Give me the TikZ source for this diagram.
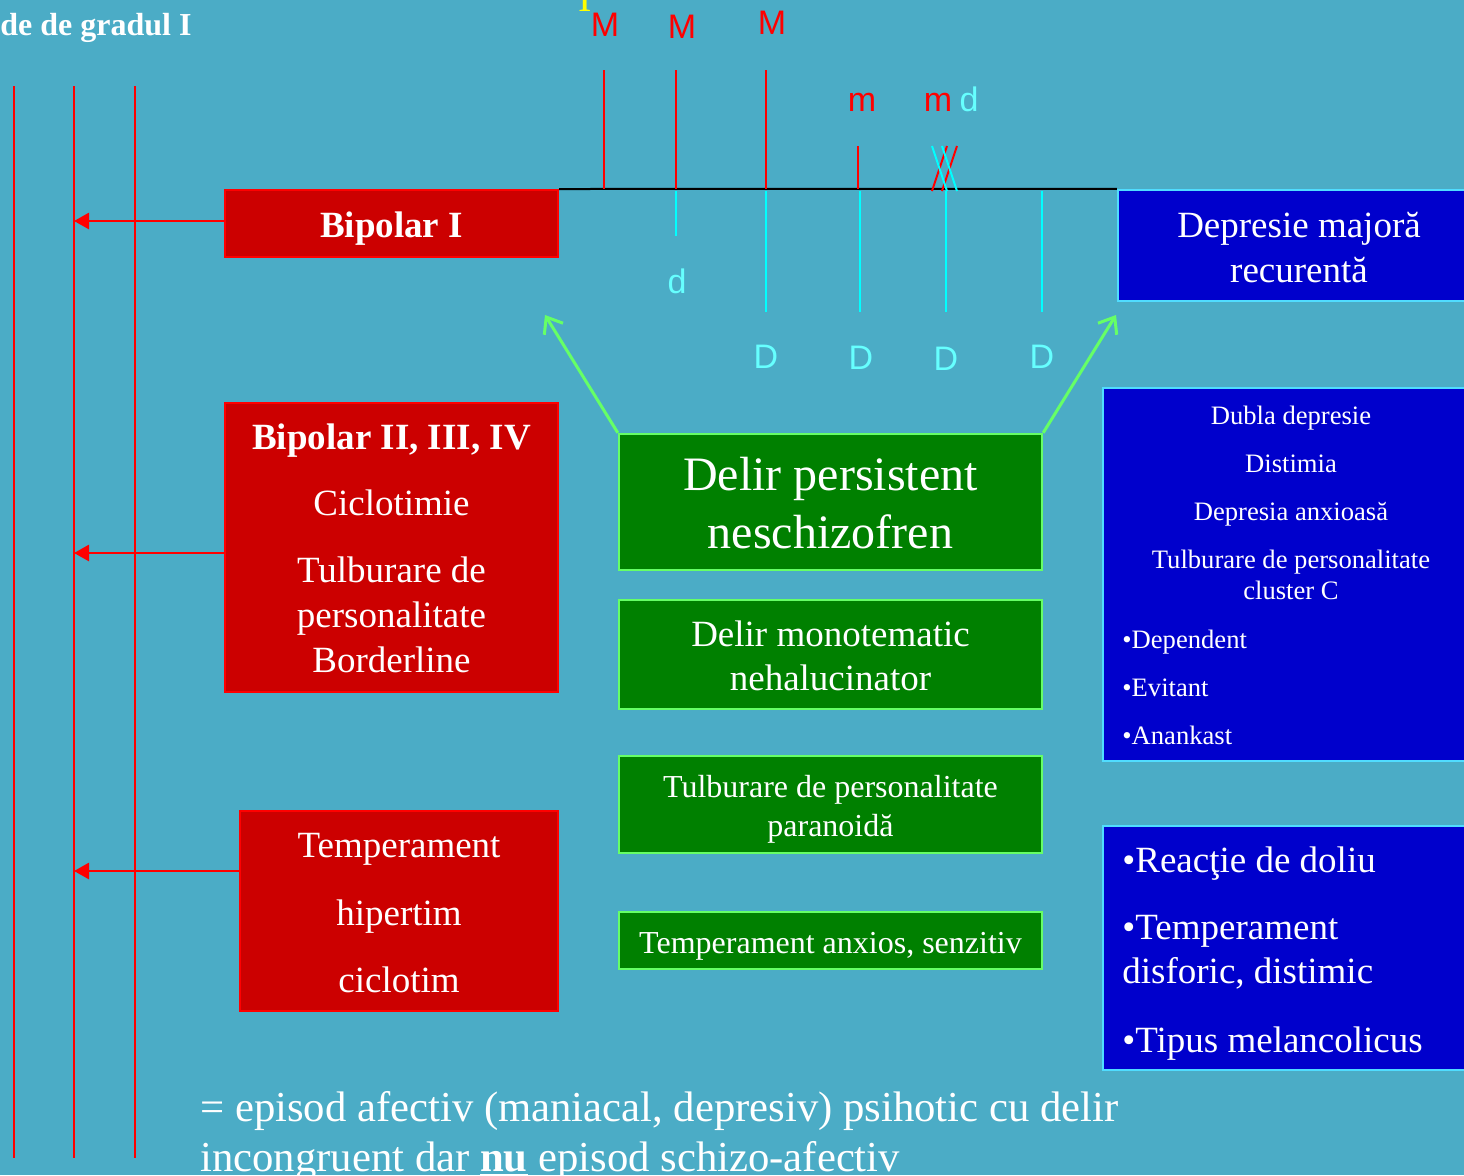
\documentclass[tikz,border=0pt]{standalone}
\usepackage{fontspec}
\setmainfont{Liberation Serif}
\newfontfamily\arialf{Liberation Sans}
\usetikzlibrary{fit,arrows.meta}
\definecolor{bg}{RGB}{75,172,198}
\definecolor{fillred}{RGB}{204,0,0}
\definecolor{edgered}{RGB}{255,0,0}
\definecolor{fillgreen}{RGB}{0,128,0}
\definecolor{edgegreen}{RGB}{102,255,102}
\definecolor{fillblue}{RGB}{0,0,204}
\definecolor{edgeblue}{RGB}{80,220,255}
\definecolor{lcyan}{RGB}{0,255,255}
\definecolor{tcyan}{RGB}{102,255,255}
\definecolor{yel}{RGB}{255,255,0}
\newcommand{\myfs}[2]{\fontsize{#1}{#2}\selectfont}
\begin{document}
\begin{tikzpicture}[x=0.5pt,y=-0.5pt,
 redbox/.style={draw=edgered,fill=fillred,line width=1pt,inner sep=0pt},
 greenbox/.style={draw=edgegreen,fill=fillgreen,line width=1.2pt,inner sep=0pt},
 bluebox/.style={draw=edgeblue,fill=fillblue,line width=1.2pt,inner sep=0pt},
 wt/.style={text=white,anchor=base,inner sep=0pt},
 wl/.style={wt,anchor=base west},
 lbl/.style={anchor=base,inner sep=0pt,font=\arialf\myfs{17}{20}},
 vred/.style={draw=edgered,line width=1pt},
 vcyan/.style={draw=lcyan,line width=1pt},
 redarrow/.style={draw=edgered,line width=1.4pt,-{Triangle[length=7.5pt,width=8pt]}},
 greenarrow/.style={draw=edgegreen,line width=1.5pt,-{Straight Barb[length=7pt,width=11pt]}},
 big/.style={font=\myfs{18.5}{22}},
]
\fill[bg] (0,0) rectangle (1464,1175);
\useasboundingbox (0,0) rectangle (1464,1175);

% vertical red lines
\coordinate (v1t) at (14,86);  \coordinate (v1b) at (14,1158);
\coordinate (v2t) at (74,86);  \coordinate (v2b) at (74,1158);
\coordinate (v3t) at (135,86); \coordinate (v3b) at (135,1158);
\draw[vred] (v1t) -- (v1b);
\draw[vred] (v2t) -- (v2b);
\draw[vred] (v3t) -- (v3b);

% boxes
\node[redbox,fit={(225,190)(558,257)}] (bip1) {};
\node[redbox,fit={(225,403)(558,692)}] (bip2) {};
\node[redbox,fit={(240,811)(558,1011)}] (temp) {};
\node[greenbox,fit={(619,434)(1042,570)}] (dp) {};
\node[greenbox,fit={(619,600)(1042,709)}] (dm) {};
\node[greenbox,fit={(619,756)(1042,853)}] (tp) {};
\node[greenbox,fit={(619,912)(1042,969)}] (ta) {};
\node[bluebox,fit={(1118,190)(1480,301)}] (dep) {};
\node[bluebox,fit={(1103,388)(1480,761)}] (dub) {};
\node[bluebox,fit={(1103,826)(1480,1070)}] (rea) {};

% red arrows to second line
\coordinate (a1) at (0,221);
\coordinate (a2) at (0,553);
\coordinate (a3) at (0,871);
\draw[redarrow] (bip1.west |- a1) -- (v2t |- a1);
\draw[redarrow] (bip2.west |- a2) -- (v2t |- a2);
\draw[redarrow] (temp.west |- a3) -- (v2t |- a3);

% timeline
\draw[black,line width=1pt] (bip1.north east) -- (dep.north west);

% red ticks (mania)
\coordinate (t1) at (604,70);
\coordinate (t2) at (676,70);
\coordinate (t3) at (766,70);
\coordinate (t4) at (858,146);
\draw[vred] (t1) -- (t1 |- bip1.north);
\draw[vred] (t2) -- (t2 |- bip1.north);
\draw[vred] (t3) -- (t3 |- bip1.north);
\draw[vred] (t4) -- (t4 |- bip1.north);

% cyan ticks (depression)
\draw[vcyan] (676,191) -- (676,236);
\draw[vcyan] (766,191) -- (766,312);
\draw[vcyan] (860,191) -- (860,312);
\draw[vcyan] (946,191) -- (946,312);
\draw[vcyan] (1042,191) -- (1042,312);

% crossed mixed episode
\draw[edgered,line width=1pt] (932,191) -- (947,146);
\draw[edgered,line width=1pt] (942,191) -- (957,146);
\draw[lcyan,line width=1pt] (932,146) -- (947,191);
\draw[lcyan,line width=1pt] (942,146) -- (957,191);

% labels
\node[lbl,text=edgered] (M1) at (605,36) {M};
\node[lbl,text=edgered] (M2) at (682,38) {M};
\node[lbl,text=edgered] (M3) at (772,34) {M};
\node[lbl,text=edgered] (m1) at (862,111) {m};
\node[lbl,text=edgered] (m2) at (938,111) {m};
\node[lbl,text=tcyan] (d1) at (969,111) {d};
\node[lbl,text=tcyan] (d2) at (677,293) {d};
\node[lbl,text=tcyan] (D1) at (766,368) {D};
\node[lbl,text=tcyan] (D2) at (861,369) {D};
\node[lbl,text=tcyan] (D3) at (946,370) {D};
\node[lbl,text=tcyan] (D4) at (1042,368) {D};

% green arrows
\coordinate (g1) at (545,315);
\coordinate (g2) at (1116,315);
\draw[greenarrow] (dp.north west) -- (g1);
\draw[greenarrow] (dp.north east) -- (g2);

% top texts
\node[wl,font=\bfseries\myfs{16}{19}] (title) at (0,35) {de de gradul I};
\node[wt,text=yel,font=\myfs{20}{24}] (yI) at (585,11) {I};

% red box texts
\node[wt,font=\bfseries\myfs{18.5}{22}] (t_b1) at (391.5,237) {Bipolar I};
\node[wt,font=\bfseries\myfs{18.5}{22}] (t_b2a) at (391.5,449) {Bipolar II, III, IV};
\node[wt,big] (t_b2b) at (391.5,515) {Ciclotimie};
\node[wt,big] (t_b2c) at (391.5,582) {Tulburare de};
\node[wt,big] (t_b2d) at (391.5,627) {personalitate};
\node[wt,big] (t_b2e) at (391.5,672) {Borderline};
\node[wt,big] (t_t1) at (399,857) {Temperament};
\node[wt,big] (t_t2) at (399,925) {hipertim};
\node[wt,big] (t_t3) at (399,992) {ciclotim};

% green box texts
\node[wt,font=\myfs{24}{28}] (t_dp1) at (830.5,490) {Delir persistent};
\node[wt,font=\myfs{24}{28}] (t_dp2) at (830.5,548) {neschizofren};
\node[wt,big] (t_dm1) at (830.5,646) {Delir monotematic};
\node[wt,big] (t_dm2) at (830.5,690) {nehalucinator};
\node[wt,font=\myfs{16}{19}] (t_tp1) at (830.5,797) {Tulburare de personalitate};
\node[wt,font=\myfs{16}{19}] (t_tp2) at (830.5,836) {paranoidă};
\node[wt,font=\myfs{16}{19}] (t_ta) at (830.5,953) {Temperament anxios, senzitiv};

% blue box texts
\node[wt,big] (t_dep1) at (1299,237) {Depresie majoră};
\node[wt,big] (t_dep2) at (1299,282) {recurentă};
\node[wt,font=\myfs{13.3}{16}] (t_du1) at (1291,424) {Dubla depresie};
\node[wt,font=\myfs{13.3}{16}] (t_du2) at (1291,472) {Distimia};
\node[wt,font=\myfs{13.3}{16}] (t_du3) at (1291,520) {Depresia anxioasă};
\node[wt,font=\myfs{13.3}{16}] (t_du4) at (1291,568) {Tulburare de personalitate};
\node[wt,font=\myfs{13.3}{16}] (t_du5) at (1291,599) {cluster C};
\node[wl,font=\myfs{13.3}{16}] (t_du6) at (1122,648) {•Dependent};
\node[wl,font=\myfs{13.3}{16}] (t_du7) at (1122,696) {•Evitant};
\node[wl,font=\myfs{13.3}{16}] (t_du8) at (1122,744) {•Anankast};
\node[wl,big] (t_re1) at (1122,872) {•Reacţie de doliu};
\node[wl,big] (t_re2) at (1122,939) {•Temperament};
\node[wl,big] (t_re3) at (1122,983) {disforic, distimic};
\node[wl,big] (t_re4) at (1122,1052) {•Tipus melancolicus};

% footer
\node[wl,font=\myfs{21.35}{25}] (foot1) at (200,1121) {= episod afectiv (maniacal, depresiv) psihotic cu delir};
\node[wl,font=\myfs{21.35}{25}] (foot2) at (200,1171) {incongruent dar \textbf{\underline{nu}} episod schizo-afectiv};
\end{tikzpicture}
\end{document}
